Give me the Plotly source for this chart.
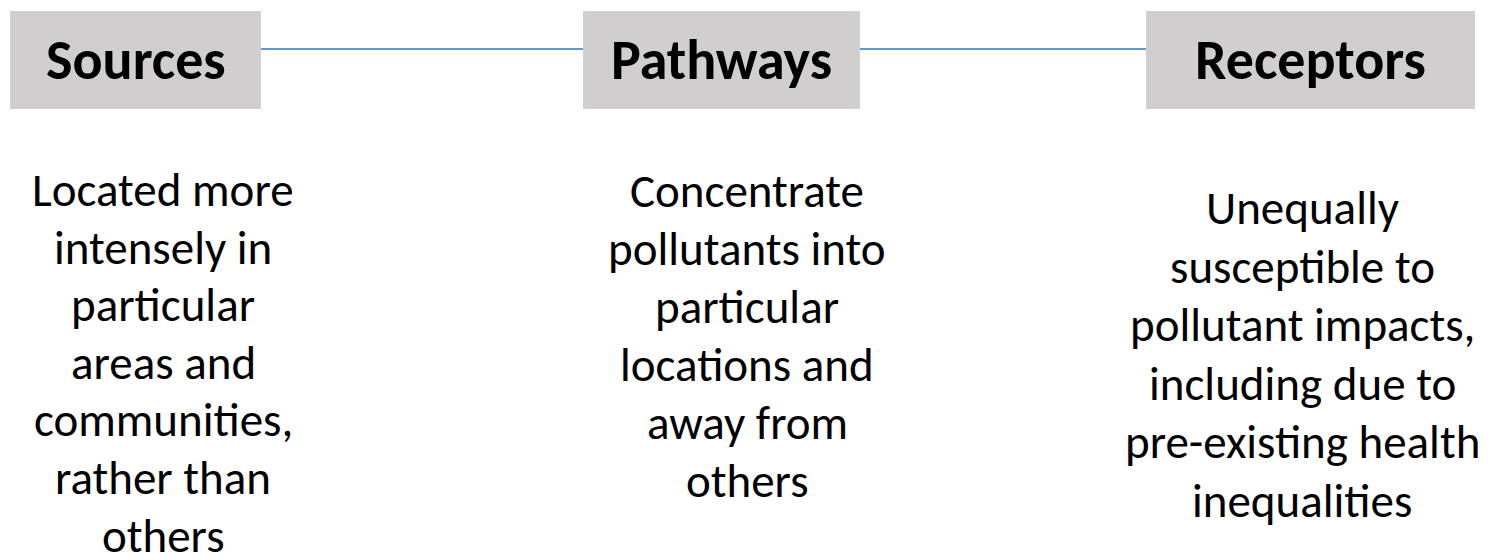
import plotly.graph_objects as go

# ---- content ----
headers = ["Sources", "Pathways", "Receptors"]
descriptions = [
    ["Located more", "intensely in", "particular", "areas and", "communities,", "rather than", "others"],
    ["Concentrate", "pollutants into", "particular", "locations and", "away from", "others"],
    ["Unequally", "susceptible to", "pollutant impacts,", "including due to", "pre-existing health", "inequalities"],
]

# ---- layout constants (pixels in a 1488x560 window) ----
W, H = 1488, 560
PAGE_OFFSET = 8  # default page body margin
box_x0 = [10, 583, 1146]
box_x1 = [261, 860, 1475]
box_y0, box_y1 = 11, 109
header_y = 60
text_cx = [163, 747, 1302]
text_first_y = [190, 191, 208]
line_step = [57.6, 58, 58.6]
line_y = 49

BOX_FILL = "#D0CECE"
LINE_COL = "#5B9BD5"
FONT = "Calibri, Carlito, Lato, sans-serif"

fig = go.Figure()

shapes = []
for i in range(len(headers) - 1):
    shapes.append(dict(type="line", xref="x", yref="y",
                       x0=box_x1[i], x1=box_x0[i + 1], y0=line_y, y1=line_y,
                       line=dict(color=LINE_COL, width=2)))
for i in range(len(headers)):
    shapes.append(dict(type="rect", xref="x", yref="y",
                       x0=box_x0[i], x1=box_x1[i], y0=box_y0, y1=box_y1,
                       fillcolor=BOX_FILL, line=dict(width=0), layer="below"))

annotations = []
for i, h in enumerate(headers):
    annotations.append(dict(x=(box_x0[i] + box_x1[i]) / 2, y=header_y, xref="x", yref="y",
                            text=f"<b>{h}</b>", showarrow=False,
                            xanchor="center", yanchor="middle",
                            font=dict(family=FONT, size=56, color="#000000")))
    for k, line in enumerate(descriptions[i]):
        annotations.append(dict(x=text_cx[i], y=text_first_y[i] + k * line_step[i],
                                xref="x", yref="y", text=line, showarrow=False,
                                xanchor="center", yanchor="middle", align="center",
                                font=dict(family=FONT, size=47, color="#000000")))

fig.update_layout(
    width=W, height=H,
    margin=dict(l=0, r=0, t=0, b=0),
    paper_bgcolor="white", plot_bgcolor="white",
    xaxis=dict(range=[PAGE_OFFSET, W + PAGE_OFFSET], visible=False, fixedrange=True),
    yaxis=dict(range=[H + PAGE_OFFSET, PAGE_OFFSET], visible=False, fixedrange=True),
    shapes=shapes, annotations=annotations,
    showlegend=False,
)

fig.write_html("out.html")
